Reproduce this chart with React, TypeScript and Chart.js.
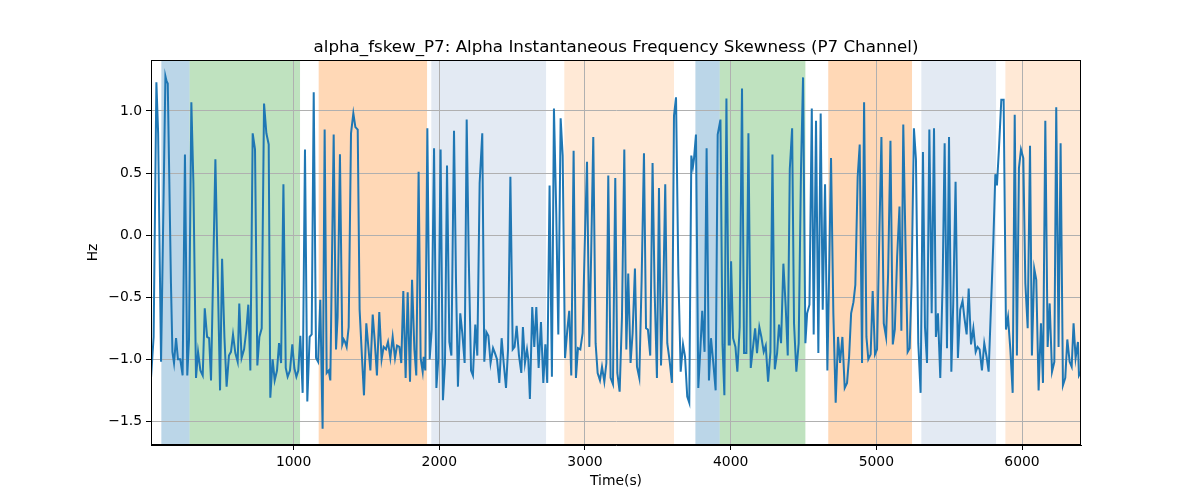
import React, { useEffect, useRef } from "react";
import { Chart, registerables } from "chart.js";

Chart.register(...registerables);

const TITLE = "alpha_fskew_P7: Alpha Instantaneous Frequency Skewness (P7 Channel)";
const X_LABEL = "Time(s)";
const Y_LABEL = "Hz";
const X_TICKS = [1000, 2000, 3000, 4000, 5000, 6000];
const Y_TICKS = [-1.5, -1.0, -0.5, 0.0, 0.5, 1.0];
const X_MIN = 21;
const X_MAX = 6405;
const Y_MIN = -1.69;
const Y_MAX = 1.41;

const TIMES = [
  21, 39, 58, 70, 90, 120, 128, 136, 158, 168, 179, 193, 206, 222, 238, 254, 270, 282, 298, 312,
  330, 344, 360, 376, 390, 406, 420, 433, 463, 495, 509, 525, 540, 556, 570, 584, 600, 616, 627, 643,
  660, 676, 689, 703, 719, 735, 751, 765, 781, 797, 813, 829, 840, 856, 870, 886, 900, 914, 930, 946,
  959, 975, 991, 1005, 1019, 1032, 1046, 1062, 1078, 1094, 1110, 1124, 1138, 1154, 1168, 1183, 1199, 1213, 1227, 1241,
  1252, 1275, 1291, 1302, 1318, 1334, 1344, 1353, 1364, 1378, 1394, 1410, 1424, 1440, 1453, 1469, 1483, 1499, 1513, 1527,
  1543, 1556, 1572, 1588, 1604, 1618, 1634, 1648, 1664, 1680, 1696, 1710, 1726, 1739, 1753, 1769, 1783, 1799, 1813, 1829,
  1842, 1858, 1872, 1886, 1893, 1904, 1918, 1934, 1948, 1964, 1980, 1993, 2009, 2025, 2039, 2053, 2069, 2083, 2101, 2115,
  2128, 2144, 2158, 2174, 2188, 2202, 2218, 2231, 2247, 2261, 2277, 2295, 2309, 2323, 2337, 2352, 2369, 2382, 2396, 2412,
  2428, 2442, 2458, 2472, 2488, 2504, 2517, 2531, 2547, 2563,
  2574, 2588, 2602, 2611, 2622, 2638, 2652, 2666, 2682, 2698, 2714, 2728, 2741, 2757, 2773, 2787, 2803, 2817, 2833, 2847,
  2863, 2879, 2892, 2906, 2922, 2938, 2952, 2968, 2984, 2998, 3014, 3030, 3043, 3057, 3073, 3087, 3103, 3117, 3133, 3147,
  3160, 3176, 3192, 3208, 3222, 3238, 3254, 3270, 3284, 3297, 3313, 3327, 3343, 3357, 3373, 3389, 3405, 3419, 3432, 3448,
  3464, 3478, 3494, 3508, 3522, 3538, 3551, 3565, 3581, 3597, 3611, 3625, 3641, 3657, 3673, 3687, 3702, 3716, 3730, 3741,
  3748, 3762, 3778, 3792, 3805, 3821, 3835, 3851, 3865, 3881, 3897,
  3911, 3930, 3944, 3957, 3971, 3987, 3994, 4003, 4017, 4033, 4046, 4062, 4078, 4092, 4108, 4122, 4138, 4152, 4168, 4181,
  4197, 4211, 4227, 4241, 4257, 4273, 4287, 4303, 4319, 4332, 4346, 4362, 4378, 4392, 4406, 4422, 4435, 4451, 4467, 4483,
  4497, 4513, 4525, 4541, 4557, 4570, 4586, 4602, 4618, 4632, 4648, 4664, 4678, 4689, 4705, 4721, 4737, 4751, 4767, 4783,
  4799, 4813, 4827, 4843, 4856, 4872, 4886, 4902, 4916, 4932, 4945, 4961, 4975, 4991, 5005, 5021, 5035, 5051, 5067, 5081,
  5097, 5113, 5127, 5143, 5159, 5172,
  5185, 5201, 5215, 5229, 5242, 5258, 5272, 5288, 5304, 5320, 5334, 5348, 5364, 5380, 5396, 5409, 5423, 5439, 5455, 5469,
  5485, 5499, 5515, 5528, 5544, 5560, 5576, 5592, 5604, 5620, 5634, 5650, 5666, 5682, 5695, 5709, 5725, 5741, 5757, 5771,
  5787, 5803, 5817, 5828, 5842, 5858, 5874, 5890, 5904, 5920, 5936, 5950, 5965, 5979, 5993, 6009, 6023, 6039, 6055, 6068,
  6084, 6098, 6114, 6130, 6144, 6160, 6176, 6190, 6206, 6222, 6235, 6251, 6265, 6281, 6297, 6311, 6327, 6341, 6354, 6368,
  6384, 6391, 6405,
];

const VALUES = [
  -1.15, -0.82, 1.23, 0.82, -1.02, 1.28, 1.24, 1.22, -0.39, -0.94, -1.03, -0.83, -1.0, -1.0, -1.13, 0.65, -1.13, -0.84, 1.07, 0.42,
  -1.15, -0.94, -1.09, -1.13, -0.59, -0.82, -0.83, -1.17, 0.61, -1.25, -0.19, -0.82, -1.22, -0.97, -0.94, -0.8, -0.95, -1.02, -0.55, -0.99,
  -0.92, -0.76, -0.56, -1.09, 0.82, 0.69, -1.05, -0.82, -0.75, 1.06, 0.82, 0.73, -1.31, -1.0, -1.17, -1.09, -0.87, -1.03, 0.41, -1.07,
  -1.14, -1.09, -0.88, -1.07, -1.14, -1.09, -0.81, -1.27, 0.69, -1.34, -0.82, -0.8, 1.15, -0.99, -1.02, -0.52, -1.56, 0.85, -1.11, -1.09,
  -1.17, 0.81, -0.92, -0.66, 0.65, -0.88, -0.84, -0.86, -0.9, -0.74, 0.82, 0.98, 0.87, 0.85, -0.6, -0.98, -1.29, -0.71, -0.9, -1.09,
  -0.64, -0.84, -1.13, -0.62, -1.0, -0.9, -0.92, -0.86, -0.99, -0.82, -0.99, -0.89, -0.9, -1.03, -0.45, -1.15, -0.46, -1.18, -0.36, -0.92,
  -1.13, 0.51, -0.99, -1.1, -0.98, -1.09, 0.86, -1.0, -0.76, 0.7, -1.23, -1.0, 0.69, -1.33, -1.03, 0.56, -0.86, -0.97, 0.84, -0.39,
  -1.22, -0.63, -0.79, -1.03, 0.93, -0.17, -1.09, -1.13, -0.72, -0.97, 0.42, 0.82, -1.02, -0.78, -0.81, -1.03, -0.91, -0.95, -1.0, -1.19,
  -0.83, -1.03, -1.23, -0.92, 0.47, -0.92, -0.9, -0.73, -0.97, -1.11,
  -0.74, -1.03, -0.92, -1.0, -1.32, -0.58, -0.9, -0.58, -1.07, -0.7, -1.19, -0.88, -1.19, 0.4, -1.14, 1.02, 0.17, -0.8, 0.94, 0.64,
  -0.99, -0.76, -0.61, -1.13, 0.68, -1.15, -0.91, -0.92, -0.79, -0.1, 0.59, -0.9, -0.12, 0.79, -0.87, -1.11, -1.17, -1.06, -1.18, -1.03,
  0.48, -1.15, -1.2, 0.46, -1.11, -1.26, -0.66, 0.69, -0.92, -0.31, -1.03, -0.79, -0.27, -1.06, -1.15, -0.36, 0.66, -0.75, -0.76, -0.97,
  0.58, -0.44, -1.15, 0.38, -1.05, -0.44, 0.41, -0.87, -1.01, -1.19, 0.96, 1.11, -0.31, -1.1, -0.88, -0.98, -1.3, -1.35, 0.64, 0.55,
  0.61, 0.81, -1.23, -0.92, -0.61, -0.94, 0.7, -1.17, -0.83, -1.03, -1.25,
  0.81, 0.93, -0.88, -1.29, 1.1, -0.88, -0.88, -0.21, -0.83, -0.9, -1.1, -0.74, 1.18, -0.95, -0.95, 0.82, -1.07, -0.92, -0.75, -0.95,
  -0.74, -0.82, -0.94, -0.89, -1.18, -0.94, 0.65, -1.08, -0.95, -0.72, -0.87, -0.23, -0.58, -0.97, 0.53, 0.86, -0.71, -1.1, -0.87, 0.53,
  1.27, -0.87, -0.63, -0.56, 1.02, -0.8, 0.92, -0.95, 0.98, -0.6, 0.41, -1.09, -0.17, 0.62, -0.63, -1.35, -0.82, -1.03, -0.82, -1.23,
  -1.19, -0.98, -0.63, -0.54, -0.4, 0.47, 0.73, -1.03, 1.07, -0.82, -1.0, -0.96, -0.45, -0.96, -0.92, 0.02, 0.79, -0.71, -0.82, -0.31,
  0.76, -0.88, -0.76, -0.17, 0.23, -0.77,
  0.89, -0.12, -0.94, -0.91, -0.39, 0.86, 0.61, -0.87, -1.27, 0.67, -0.74, -1.03, 0.85, -0.63, 0.86, -0.82, -0.63, -1.15, -0.39, 0.74,
  -0.91, 0.79, -1.1, -0.55, 0.43, -0.99, -0.6, -0.53, -0.66, -0.8, -0.43, -0.88, -0.75, -0.94, -0.9, -0.92, -1.09, -0.87, -0.98, -1.1,
  -0.58, -0.06, 0.49, 0.4, 0.7, 1.09, 1.09, -0.76, -0.66, -0.92, -1.27, 0.97, -0.97, 0.54, 0.69, 0.62, -0.39, -0.75, 0.72, -0.97,
  -0.27, -0.36, -1.25, -0.71, -1.19, 0.92, -0.9, -0.55, -1.1, -1.02, 1.03, -0.9, 0.74, -1.21, -1.15, -0.84, -1.02, -1.06, -0.71, -0.99,
  -0.86, -1.13, -1.1,
];

// shaded phases
const SPAN_STARTS = [92, 286, 1172, 1945, 2858, 3758, 3925, 4670, 5309, 5886];
const SPAN_ENDS = [286, 1044, 1916, 2733, 3611, 3925, 4513, 5245, 5822, 6405];
const SPAN_KINDS = ["blue", "green", "orange", "lightblue", "lightorange", "blue", "green", "orange", "lightblue", "lightorange"];

const SPAN_COLORS: Record<string, string> = {
  blue: "rgba(31,119,180,0.3)",
  green: "rgba(44,160,44,0.3)",
  orange: "rgba(255,127,14,0.3)",
  lightblue: "rgba(176,196,222,0.35)",
  lightorange: "rgba(255,127,14,0.17)",
};

const FONT = "'DejaVu Sans', sans-serif";
const fmtY = (v: number) => (v < 0 ? "\u2212" + Math.abs(v).toFixed(1) : v.toFixed(1));

export default function App() {
  const ref = useRef<HTMLCanvasElement | null>(null);

  useEffect(() => {
    document.body.style.margin = "0";
    const canvas = ref.current;
    if (!canvas) return;

    const decor = {
      id: "decor",
      beforeDraw(chart: any) {
        const { ctx, chartArea: a, scales } = chart;
        ctx.save();
        ctx.fillStyle = "#ffffff";
        ctx.fillRect(0, 0, chart.width, chart.height);
        for (let i = 0; i < SPAN_STARTS.length; i++) {
          const x1 = Math.max(a.left, scales.x.getPixelForValue(SPAN_STARTS[i]));
          const x2 = Math.min(a.right, scales.x.getPixelForValue(SPAN_ENDS[i]));
          ctx.fillStyle = SPAN_COLORS[SPAN_KINDS[i]];
          ctx.fillRect(x1, a.top, x2 - x1, a.bottom - a.top);
        }
        ctx.restore();
      },
      afterDraw(chart: any) {
        const { ctx, chartArea: a } = chart;
        ctx.save();
        ctx.strokeStyle = "#000";
        ctx.lineWidth = 1;
        ctx.strokeRect(Math.round(a.left) + 0.5, Math.round(a.top) + 0.5, Math.round(a.right - a.left) - 1, Math.round(a.bottom - a.top) - 1);
        ctx.fillStyle = "#000";
        ctx.textAlign = "center";
        ctx.textBaseline = "alphabetic";
        ctx.font = `16.7px ${FONT}`;
        ctx.fillText(TITLE, (a.left + a.right) / 2, 52);
        ctx.font = `13.9px ${FONT}`;
        ctx.textBaseline = "middle";
        ctx.fillText(X_LABEL, (a.left + a.right) / 2, 481);
        ctx.translate(93, (a.top + a.bottom) / 2);
        ctx.rotate(-Math.PI / 2);
        ctx.fillText(Y_LABEL, 0, 0);
        ctx.restore();
      },
    };

    const chart = new Chart(canvas, {
      type: "line",
      data: {
        datasets: [
          {
            data: TIMES.map((t, i) => ({ x: t, y: VALUES[i] })),
            borderColor: "#1f77b4",
            borderWidth: 2,
            pointRadius: 0,
            tension: 0,
            fill: false,
          },
        ],
      },
      options: {
        animation: false,
        responsive: false,
        devicePixelRatio: 1,
        events: [],
        layout: { padding: { left: 0, right: 119, top: 60, bottom: 0 } },
        plugins: { legend: { display: false }, tooltip: { enabled: false }, title: { display: false } },
        scales: {
          x: {
            type: "linear",
            min: X_MIN,
            max: X_MAX,
            afterBuildTicks: (s: any) => {
              s.ticks = X_TICKS.map((v) => ({ value: v }));
            },
            afterFit: (s: any) => {
              s.height = 55;
            },
            grid: { color: "#b0b0b0", lineWidth: 1, tickLength: 5, tickColor: "#000", drawTicks: true },
            border: { display: true, color: "#000", width: 1 },
            ticks: {
              color: "#000",
              padding: 4,
              maxRotation: 0,
              autoSkip: false,
              font: { family: FONT, size: 13.9 },
              callback: (v: any) => String(v),
            },
          },
          y: {
            type: "linear",
            min: Y_MIN,
            max: Y_MAX,
            afterBuildTicks: (s: any) => {
              s.ticks = Y_TICKS.map((v) => ({ value: v }));
            },
            afterFit: (s: any) => {
              s.width = 151;
            },
            grid: { color: "#b0b0b0", lineWidth: 1, tickLength: 5, tickColor: "#000", drawTicks: true },
            border: { display: true, color: "#000", width: 1 },
            ticks: {
              color: "#000",
              padding: 4,
              autoSkip: false,
              font: { family: FONT, size: 13.9 },
              callback: (v: any) => fmtY(Number(v)),
            },
          },
        },
      } as any,
      plugins: [decor],
    });

    return () => chart.destroy();
  }, []);

  return (
    <div style={{ width: 1200, height: 500 }}>
      <canvas ref={ref} width={1200} height={500} style={{ display: "block" }} />
    </div>
  );
}
